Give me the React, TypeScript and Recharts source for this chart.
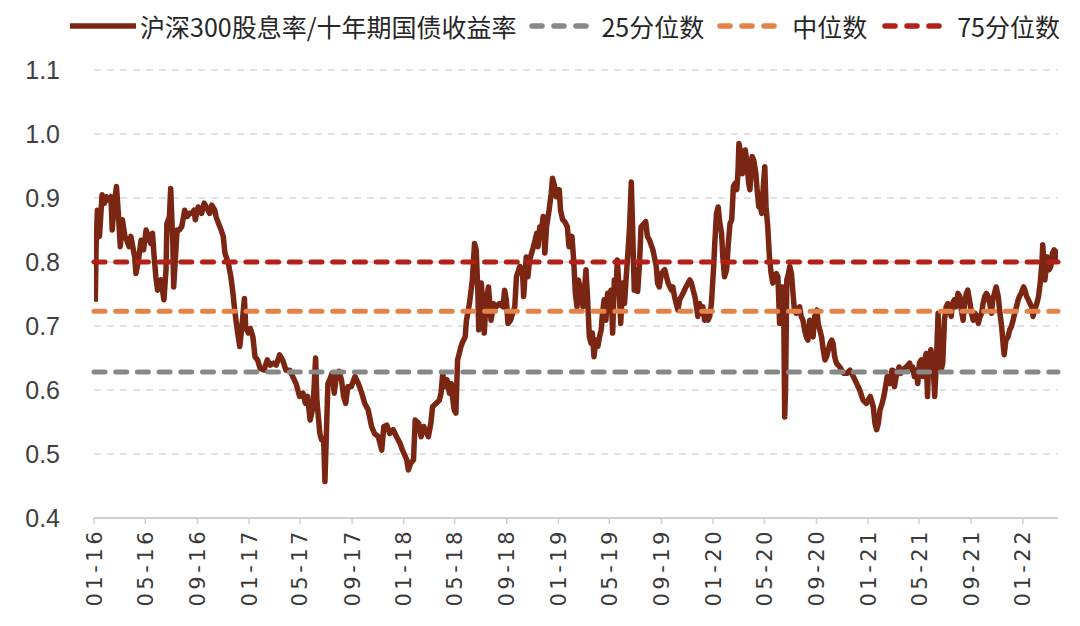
import React from "react";
import { LineChart, Line, XAxis, YAxis, CartesianGrid, ReferenceLine, Legend } from "recharts";

// 沪深300股息率/十年期国债收益率 — observation dates
const dates: string[] = [
  "2016-01-04","2016-01-06","2016-01-09","2016-01-14","2016-01-20","2016-01-26","2016-01-30","2016-02-05","2016-02-10","2016-02-13",
  "2016-02-17","2016-02-23","2016-02-28","2016-03-03","2016-03-08","2016-03-14","2016-03-18","2016-03-24","2016-03-28","2016-04-06",
  "2016-04-09","2016-04-15","2016-04-21","2016-04-27","2016-05-03","2016-05-08","2016-05-14","2016-05-18","2016-05-22","2016-05-26",
  "2016-05-30","2016-06-07","2016-06-14","2016-06-19","2016-06-21","2016-06-27","2016-06-30","2016-07-05","2016-07-07","2016-07-10",
  "2016-07-15","2016-07-20","2016-07-26","2016-08-02","2016-08-08","2016-08-14","2016-08-19","2016-08-24","2016-08-27","2016-09-03",
  "2016-09-11","2016-09-17","2016-09-22","2016-09-30","2016-10-05","2016-10-12","2016-10-15","2016-10-21","2016-10-27","2016-11-01",
  "2016-11-05","2016-11-13","2016-11-19","2016-11-24","2016-11-28","2016-12-04","2016-12-10","2016-12-15","2016-12-21",
  "2016-12-24","2016-12-30","2017-01-04","2017-01-10","2017-01-15","2017-01-21","2017-01-27","2017-02-05","2017-02-13","2017-02-20",
  "2017-02-28","2017-03-06","2017-03-14","2017-03-21","2017-03-29","2017-04-07","2017-04-14","2017-04-22","2017-04-30","2017-05-08",
  "2017-05-14","2017-05-19","2017-05-25","2017-06-01","2017-06-07","2017-06-10","2017-06-17","2017-06-21","2017-06-26","2017-06-29",
  "2017-07-02","2017-07-06","2017-07-10","2017-07-16","2017-07-21","2017-07-25","2017-08-01","2017-08-07","2017-08-12","2017-08-17",
  "2017-08-22","2017-08-30","2017-09-08","2017-09-16","2017-09-24","2017-10-01","2017-10-09","2017-10-17","2017-10-24","2017-11-02",
  "2017-11-10","2017-11-15","2017-11-22","2017-11-29","2017-12-07","2017-12-15","2017-12-23",
  "2017-12-29","2018-01-08","2018-01-12","2018-01-17","2018-01-24","2018-01-28","2018-02-05","2018-02-11","2018-02-17","2018-02-25",
  "2018-02-28","2018-03-06","2018-03-10","2018-03-18","2018-03-26","2018-03-30","2018-04-03","2018-04-07","2018-04-13","2018-04-19",
  "2018-04-23","2018-04-27","2018-04-30","2018-05-04","2018-05-08","2018-05-12","2018-05-16","2018-05-20","2018-05-26","2018-05-29",
  "2018-06-05","2018-06-12","2018-06-17","2018-06-21","2018-06-25","2018-06-27","2018-07-03","2018-07-06","2018-07-10","2018-07-14",
  "2018-07-20","2018-07-26","2018-08-01","2018-08-07","2018-08-15","2018-08-23","2018-08-27","2018-08-31","2018-09-04","2018-09-10",
  "2018-09-15","2018-09-20","2018-09-24","2018-10-02","2018-10-08","2018-10-11","2018-10-17","2018-10-21","2018-10-25","2018-11-01",
  "2018-11-07","2018-11-11","2018-11-14","2018-11-18","2018-11-22","2018-11-26","2018-11-30","2018-12-04","2018-12-10","2018-12-15",
  "2018-12-18","2018-12-23","2018-12-27","2019-01-03","2019-01-06","2019-01-11","2019-01-16","2019-01-22","2019-01-26",
  "2019-02-02","2019-02-06","2019-02-10","2019-02-14","2019-02-17","2019-02-21","2019-02-25","2019-02-28","2019-03-03","2019-03-07",
  "2019-03-11","2019-03-15","2019-03-19","2019-03-22","2019-03-26","2019-03-30","2019-04-04","2019-04-08","2019-04-12","2019-04-15",
  "2019-04-19","2019-04-23","2019-04-27","2019-05-01","2019-05-05","2019-05-09","2019-05-13","2019-05-17","2019-05-20","2019-05-24",
  "2019-05-28","2019-06-02","2019-06-06","2019-06-10","2019-06-14","2019-06-18","2019-06-22","2019-06-25","2019-06-29","2019-07-03",
  "2019-07-07","2019-07-11","2019-07-15","2019-07-22","2019-07-26","2019-07-30","2019-08-04","2019-08-12","2019-08-20","2019-08-23",
  "2019-08-27","2019-09-01","2019-09-09","2019-09-13","2019-09-17","2019-09-21","2019-09-25","2019-09-28","2019-10-02","2019-10-06",
  "2019-10-10","2019-10-14","2019-10-22","2019-10-29","2019-11-03","2019-11-07","2019-11-11","2019-11-15","2019-11-19","2019-11-23",
  "2019-11-26","2019-11-30","2019-12-04","2019-12-08","2019-12-12","2019-12-16","2019-12-20","2019-12-24","2019-12-28","2020-01-02",
  "2020-01-05","2020-01-09","2020-01-13",
  "2020-01-17","2020-01-21","2020-01-24","2020-01-28","2020-02-02","2020-02-06","2020-02-10","2020-02-14","2020-02-18","2020-02-22",
  "2020-02-26","2020-02-29","2020-03-02","2020-03-05","2020-03-10","2020-03-13","2020-03-17","2020-03-21","2020-03-25","2020-03-28",
  "2020-04-02","2020-04-06","2020-04-11","2020-04-14","2020-04-18","2020-04-22","2020-04-25","2020-04-29","2020-05-02","2020-05-05",
  "2020-05-09","2020-05-13","2020-05-17","2020-05-21","2020-05-25","2020-05-29","2020-06-02","2020-06-06","2020-06-10","2020-06-14",
  "2020-06-16","2020-06-18","2020-06-20","2020-06-23","2020-06-27","2020-06-30","2020-07-04","2020-07-07","2020-07-11","2020-07-15",
  "2020-07-19","2020-07-23","2020-07-27","2020-07-31","2020-08-04","2020-08-08","2020-08-12","2020-08-16","2020-08-20","2020-08-24",
  "2020-08-28","2020-09-02","2020-09-05","2020-09-09","2020-09-13","2020-09-17","2020-09-21","2020-09-25","2020-09-29","2020-10-03",
  "2020-10-07","2020-10-10","2020-10-14","2020-10-18","2020-10-26","2020-11-04","2020-11-12","2020-11-19","2020-11-27","2020-12-05",
  "2020-12-12","2020-12-20","2020-12-28","2021-01-06","2021-01-13","2021-01-17","2021-01-21",
  "2021-01-25","2021-01-29","2021-02-03","2021-02-07","2021-02-11","2021-02-15","2021-02-18","2021-02-22","2021-02-26","2021-02-28",
  "2021-03-04","2021-03-08","2021-03-15","2021-03-19","2021-03-23","2021-04-01","2021-04-09","2021-04-13","2021-04-16","2021-04-20",
  "2021-04-24","2021-04-28","2021-05-02","2021-05-06","2021-05-10","2021-05-14","2021-05-18","2021-05-21","2021-05-24","2021-05-27",
  "2021-05-29","2021-06-03","2021-06-07","2021-06-11","2021-06-15","2021-06-17","2021-06-20","2021-06-22","2021-06-26","2021-06-30",
  "2021-07-04","2021-07-08","2021-07-12","2021-07-16","2021-07-19","2021-07-23","2021-07-27","2021-08-01","2021-08-05","2021-08-09",
  "2021-08-13","2021-08-17","2021-08-21","2021-08-24","2021-08-28","2021-09-02","2021-09-06","2021-09-10","2021-09-14","2021-09-18",
  "2021-09-22","2021-09-26","2021-09-29","2021-10-03","2021-10-07","2021-10-11","2021-10-15","2021-10-19","2021-10-22","2021-10-26",
  "2021-10-30","2021-11-04","2021-11-08","2021-11-12","2021-11-16","2021-11-18","2021-11-22","2021-11-27","2021-12-01","2021-12-05",
  "2021-12-09","2021-12-13","2021-12-17","2021-12-21","2021-12-24","2021-12-28","2022-01-03","2022-01-06","2022-01-10","2022-01-14",
  "2022-01-18","2022-01-22","2022-01-25","2022-01-29","2022-02-03","2022-02-07","2022-02-11","2022-02-15","2022-02-17","2022-02-20",
  "2022-02-22","2022-02-26","2022-02-28","2022-03-04","2022-03-08","2022-03-12","2022-03-16","2022-03-20","2022-03-22",
];

// ratio values, aligned line by line with dates
const ratio: number[] = [
  0.738,0.824,0.881,0.840,0.905,0.892,0.902,0.897,0.902,0.850,
  0.886,0.918,0.871,0.824,0.866,0.840,0.834,0.824,0.840,0.808,
  0.782,0.803,0.834,0.819,0.850,0.840,0.829,0.845,0.808,0.777,
  0.756,0.772,0.741,0.788,0.860,0.871,0.915,0.829,0.761,0.793,
  0.850,0.850,0.855,0.881,0.871,0.876,0.876,0.881,0.866,0.886,
  0.876,0.892,0.886,0.876,0.889,0.881,0.871,0.860,0.850,0.840,
  0.814,0.798,0.777,0.751,0.725,0.694,0.668,0.699,0.743,
  0.699,0.689,0.696,0.683,0.652,0.647,0.634,0.631,0.647,0.639,
  0.642,0.639,0.655,0.647,0.631,0.631,0.621,0.610,0.590,0.595,
  0.579,0.590,0.553,0.574,0.650,0.584,0.532,0.522,0.522,0.457,
  0.522,0.610,0.616,0.626,0.595,0.616,0.629,0.616,0.590,0.579,
  0.605,0.605,0.621,0.610,0.595,0.579,0.569,0.543,0.532,0.527,
  0.506,0.543,0.545,0.532,0.538,0.527,0.517,
  0.506,0.491,0.475,0.485,0.491,0.553,0.548,0.527,0.543,0.532,
  0.527,0.548,0.574,0.579,0.584,0.595,0.626,0.605,0.616,0.595,
  0.610,0.584,0.569,0.564,0.647,0.657,0.668,0.675,0.683,0.709,
  0.735,0.772,0.829,0.819,0.751,0.694,0.767,0.741,0.689,0.735,
  0.761,0.709,0.735,0.730,0.735,0.730,0.756,0.741,0.704,0.709,
  0.720,0.730,0.777,0.793,0.788,0.746,0.808,0.777,0.803,0.819,
  0.834,0.845,0.824,0.855,0.850,0.871,0.814,0.855,0.881,0.907,
  0.931,0.918,0.902,0.913,0.881,0.866,0.863,0.855,0.824,
  0.840,0.803,0.751,0.730,0.772,0.761,0.746,0.730,0.751,0.788,
  0.741,0.683,0.673,0.689,0.652,0.678,0.668,0.683,0.694,0.720,
  0.741,0.709,0.751,0.741,0.756,0.689,0.772,0.756,0.803,0.761,
  0.704,0.767,0.735,0.777,0.814,0.855,0.925,0.855,0.756,0.788,
  0.754,0.793,0.855,0.860,0.863,0.840,0.834,0.819,0.793,0.767,
  0.761,0.782,0.788,0.777,0.767,0.761,0.756,0.761,0.746,0.735,
  0.725,0.741,0.751,0.761,0.767,0.772,0.767,0.756,0.746,0.730,
  0.715,0.735,0.720,0.730,0.709,0.715,0.709,0.715,0.735,0.788,
  0.829,0.876,0.886,
  0.860,0.845,0.808,0.777,0.788,0.829,0.860,0.866,0.918,0.923,
  0.913,0.944,0.985,0.975,0.938,0.965,0.975,0.954,0.923,0.913,
  0.965,0.959,0.938,0.913,0.886,0.886,0.876,0.923,0.949,0.886,
  0.855,0.808,0.782,0.767,0.777,0.782,0.777,0.704,0.761,0.761,
  0.704,0.558,0.600,0.772,0.782,0.793,0.782,0.756,0.725,0.720,
  0.725,0.730,0.715,0.709,0.694,0.683,0.678,0.709,0.699,0.683,
  0.715,0.725,0.704,0.694,0.683,0.663,0.647,0.652,0.663,0.673,
  0.678,0.673,0.652,0.642,0.636,0.626,0.626,0.631,0.621,0.610,
  0.600,0.584,0.579,0.590,0.574,0.548,0.538,
  0.548,0.569,0.579,0.590,0.605,0.621,0.616,0.610,0.631,0.631,
  0.605,0.621,0.636,0.626,0.631,0.636,0.642,0.631,0.636,0.621,
  0.631,0.610,0.642,0.647,0.621,0.647,0.657,0.590,0.652,0.657,
  0.663,0.642,0.590,0.642,0.720,0.673,0.652,0.631,0.642,0.709,
  0.730,0.735,0.725,0.715,0.735,0.741,0.730,0.751,0.746,0.725,
  0.709,0.741,0.751,0.756,0.741,0.720,0.709,0.720,0.715,0.704,
  0.715,0.720,0.735,0.746,0.751,0.746,0.735,0.720,0.741,0.751,
  0.761,0.746,0.720,0.699,0.668,0.655,0.678,0.683,0.694,0.699,
  0.709,0.720,0.730,0.741,0.746,0.751,0.761,0.756,0.746,0.741,
  0.735,0.730,0.715,0.725,0.735,0.746,0.767,0.798,0.827,0.793,
  0.772,0.793,0.808,0.788,0.793,0.814,0.819,0.803,0.820,
];

// quantile levels
const p25 = 0.628;
const median = 0.723;
const p75 = 0.8;

const yTicks = [0.4, 0.5, 0.6, 0.7, 0.8, 0.9, 1.0, 1.1];
const xTickDates = [
  "2016-01-01","2016-05-01","2016-09-01","2017-01-01","2017-05-01","2017-09-01","2018-01-01",
  "2018-05-01","2018-09-01","2019-01-01","2019-05-01","2019-09-01","2020-01-01","2020-05-01",
  "2020-09-01","2021-01-01","2021-05-01","2021-09-01","2022-01-01",
];
const xTickLabels = [
  "01-16","05-16","09-16","01-17","05-17","09-17","01-18","05-18","09-18","01-19",
  "05-19","09-19","01-20","05-20","09-20","01-21","05-21","09-21","01-22",
];
const xDomain = ["2016-01-01", "2022-03-25"];

const seriesNames = ["沪深300股息率/十年期国债收益率", "25分位数", "中位数", "75分位数"];
const colors = { main: "#7A2612", p25: "#888888", median: "#E2834A", p75: "#B2201A" };

const n = Math.min(dates.length, ratio.length);
const data = dates.slice(0, n).map((d, i) => ({ t: Date.parse(d), v: ratio[i] }));
const xTicks = xTickDates.map((d) => Date.parse(d));

const XTick = (props: any) => {
  const { x, y, payload } = props;
  const idx = xTicks.indexOf(payload.value);
  const label = idx >= 0 ? xTickLabels[idx] : "";
  return (
    <text
      x={x}
      y={y}
      transform={`rotate(-90 ${x} ${y})`}
      textAnchor="end"
      dy="0.36em"
      fontSize={21}
      letterSpacing={3.5}
      fontFamily="'DejaVu Sans', sans-serif"
      fill="#3a3a3a"
    >
      {label}
    </text>
  );
};

const YTick = (props: any) => {
  const { x, y, payload } = props;
  return (
    <text
      x={x}
      y={y}
      textAnchor="end"
      dy="0.36em"
      fontSize={25}
      fontFamily="'Liberation Sans Narrow', 'Arial Narrow', sans-serif"
      fill="#404040"
    >
      {Number(payload.value).toFixed(1)}
    </text>
  );
};

const DashSwatch = ({ color }: { color: string }) => (
  <svg width={64} height={10} style={{ display: "block" }}>
    <line x1={4} y1={5} x2={62} y2={5} stroke={color} strokeWidth={5.5} strokeDasharray="10 12" strokeLinecap="round" />
  </svg>
);

const LegendContent = () => (
  <div
    style={{
      display: "flex",
      alignItems: "center",
      height: 52,
      paddingLeft: 70,
      fontFamily: "'Noto Sans CJK SC', sans-serif",
      fontSize: 25,
      color: "#262626",
      whiteSpace: "nowrap",
    }}
  >
    <svg width={66} height={10} style={{ display: "block", marginRight: 4 }}>
      <line x1={0} y1={5} x2={66} y2={5} stroke={colors.main} strokeWidth={5.5} />
    </svg>
    <span style={{ marginRight: 12 }}>{seriesNames[0]}</span>
    <DashSwatch color={colors.p25} />
    <span style={{ marginLeft: 9, marginRight: 12 }}>{seriesNames[1]}</span>
    <DashSwatch color={colors.median} />
    <span style={{ marginLeft: 12, marginRight: 14 }}>{seriesNames[2]}</span>
    <DashSwatch color={colors.p75} />
    <span style={{ marginLeft: 12 }}>{seriesNames[3]}</span>
  </div>
);

export default function App() {
  return (
    <div style={{ position: "absolute", left: 0, top: 0, width: 1080, height: 626, background: "#fff" }}>
      <LineChart width={1080} height={626} data={data} margin={{ top: 70, right: 22, bottom: 8, left: 0 }}>
        <CartesianGrid horizontal vertical={false} stroke="#d9d9d9" strokeWidth={1.5} strokeDasharray="7 6" />
        <XAxis
          type="number"
          dataKey="t"
          domain={[Date.parse(xDomain[0]), Date.parse(xDomain[1])]}
          ticks={xTicks}
          interval={0}
          tick={<XTick />}
          tickSize={6}
          tickMargin={4}
          tickLine={{ stroke: "#d0d0d0", strokeWidth: 1.5 }}
          axisLine={{ stroke: "#d0d0d0", strokeWidth: 2 }}
          height={100}
          allowDataOverflow
        />
        <YAxis
          type="number"
          domain={[0.4, 1.1]}
          ticks={yTicks}
          interval={0}
          axisLine={false}
          tickLine={false}
          tickSize={6}
          tickMargin={28}
          width={94}
          tick={<YTick />}
        />
        <Legend
          verticalAlign="middle"
          align="center"
          layout="horizontal"
          content={<LegendContent />}
          wrapperStyle={{ top: 0, left: 0, width: 1080, height: 52 }}
        />
        <Line
          type="linear"
          dataKey="v"
          name={seriesNames[0]}
          stroke={colors.main}
          strokeWidth={5.5}
          strokeLinejoin="round"
          dot={false}
          activeDot={false}
          isAnimationActive={false}
        />
        <ReferenceLine y={p25} stroke={colors.p25} strokeWidth={5} strokeDasharray="11 10.7" strokeLinecap="round" />
        <ReferenceLine y={median} stroke={colors.median} strokeWidth={5} strokeDasharray="11 10.7" strokeLinecap="round" />
        <ReferenceLine y={p75} stroke={colors.p75} strokeWidth={5} strokeDasharray="11 10.7" strokeLinecap="round" />
      </LineChart>
    </div>
  );
}
